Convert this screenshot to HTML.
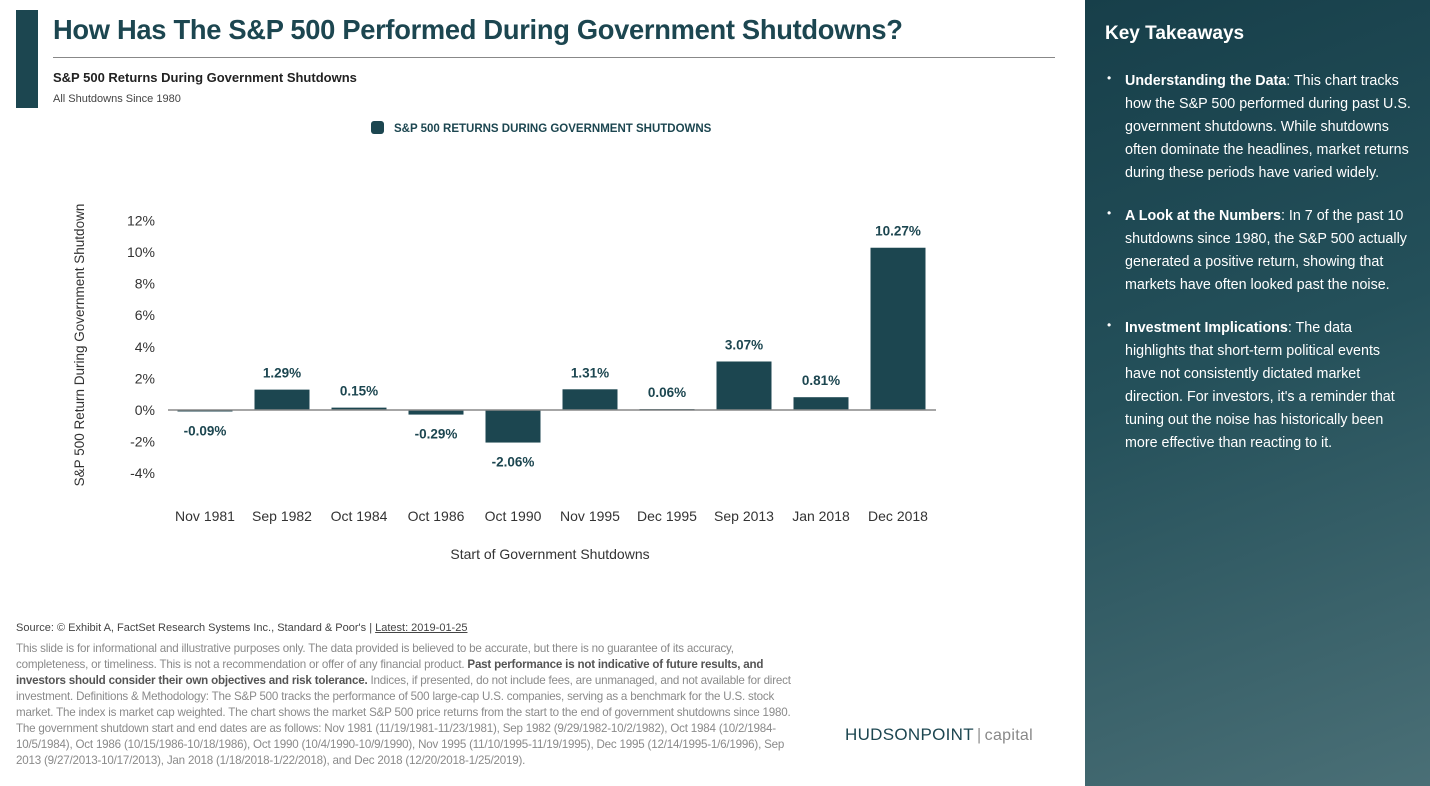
<!DOCTYPE html>
<html><head><meta charset="utf-8"><style>
body{margin:0;width:1430px;height:786px;overflow:hidden;background:#fff;font-family:"Liberation Sans",sans-serif;position:relative}
.abs{position:absolute}
#panel{left:1085px;top:0;width:345px;height:786px;background:linear-gradient(160deg,#173f4a 0%,#24505a 45%,#4a6f76 100%);color:#fff}
#panel h2{position:absolute;left:20px;top:23px;margin:0;font-size:19px;font-weight:bold}
#panel ul{position:absolute;left:20px;top:70px;width:288px;margin:0;padding:0 0 0 20px;font-size:14.3px;line-height:23px}
#panel li{margin-bottom:20px;list-style:none;position:relative}
#panel li:before{content:"•";position:absolute;left:-18px;top:-3px;font-size:12px}
.disc{left:16px;top:641px;width:775px;font-size:11.6px;line-height:16px;color:#8a8a8a;letter-spacing:-0.2px}
.disc b{color:#555}
</style></head><body>
<div class="abs" style="left:16px;top:10px;width:22px;height:98px;background:#1c4650"></div>
<div class="abs" style="left:53px;top:14px;font-size:27.3px;font-weight:bold;color:#1c4650;letter-spacing:-0.3px">How Has The S&amp;P 500 Performed During Government Shutdowns?</div>
<div class="abs" style="left:53px;top:57px;width:1002px;height:1px;background:#888"></div>
<div class="abs" style="left:53px;top:70px;font-size:13px;font-weight:bold;color:#222">S&amp;P 500 Returns During Government Shutdowns</div>
<div class="abs" style="left:53px;top:93px;font-size:11px;color:#444">All Shutdowns Since 1980</div>

<svg class="abs" style="left:0;top:0" width="1085" height="610" font-family="Liberation Sans, sans-serif">
<g>
<rect x="371" y="121" width="13" height="13" rx="3" fill="#1c4650"/>
<text x="394" y="132" font-size="11.5" fill="#1c4650" font-weight="bold">S&amp;P 500 RETURNS DURING GOVERNMENT SHUTDOWNS</text>
</g>
<text transform="translate(84,345) rotate(-90)" text-anchor="middle" font-size="13.5" fill="#333">S&amp;P 500 Return During Government Shutdown</text>
<text x="550" y="559" text-anchor="middle" font-size="14" fill="#333">Start of Government Shutdowns</text>
<g id="ticks"></g><g id="bars"></g>
</svg>
<script>
const categories=["Nov 1981","Sep 1982","Oct 1984","Oct 1986","Oct 1990","Nov 1995","Dec 1995","Sep 2013","Jan 2018","Dec 2018"];
const returns=[-0.09,1.29,0.15,-0.29,-2.06,1.31,0.06,3.07,0.81,10.27];
const yTicks=[12,10,8,6,4,2,0,-2,-4];
const NS="http://www.w3.org/2000/svg";
const y=v=>410-v*15.8;
const x=i=>205+i*77;
function mk(t,a,p){const e=document.createElementNS(NS,t);for(const k in a)e.setAttribute(k,a[k]);p.appendChild(e);return e;}
const tg=document.getElementById('ticks'),bg=document.getElementById('bars');
yTicks.forEach(v=>{const t=mk('text',{x:155,y:y(v)+5,'text-anchor':'end','font-size':14,fill:'#333'},tg);t.textContent=v+'%';

});
returns.forEach((v,i)=>{
const r=mk('rect',{x:x(i)-27.5,width:55,y:Math.min(y(v),y(0)),height:Math.max(Math.abs(y(v)-y(0)),1.5),fill:'#1c4650'},bg);


const l=mk('text',{x:x(i),y:v>=0?y(v)-12:y(v)+24,'text-anchor':'middle','font-size':13.5,'font-weight':'bold',fill:'#1c4650'},bg);
l.textContent=v.toFixed(2)+'%';


const c=mk('text',{x:x(i),y:521,'text-anchor':'middle','font-size':14,fill:'#333'},bg);
c.textContent=categories[i];


});
const ax=mk('line',{x1:168,x2:936,y1:y(0),y2:y(0),stroke:'#888','stroke-width':1.5},bg);


</script>

<div class="abs" style="left:16px;top:622px;font-size:11px;color:#444">Source: © Exhibit A, FactSet Research Systems Inc., Standard &amp; Poor's | <u>Latest: 2019-01-25</u></div>
<div class="abs disc">This slide is for informational and illustrative purposes only. The data provided is believed to be accurate, but there is no guarantee of its accuracy, completeness, or timeliness. This is not a recommendation or offer of any financial product. <b>Past performance is not indicative of future results, and investors should consider their own objectives and risk tolerance.</b> Indices, if presented, do not include fees, are unmanaged, and not available for direct investment. Definitions &amp; Methodology: The S&amp;P 500 tracks the performance of 500 large-cap U.S. companies, serving as a benchmark for the U.S. stock market. The index is market cap weighted. The chart shows the market S&amp;P 500 price returns from the start to the end of government shutdowns since 1980. The government shutdown start and end dates are as follows: Nov 1981 (11/19/1981-11/23/1981), Sep 1982 (9/29/1982-10/2/1982), Oct 1984 (10/2/1984-10/5/1984), Oct 1986 (10/15/1986-10/18/1986), Oct 1990 (10/4/1990-10/9/1990), Nov 1995 (11/10/1995-11/19/1995), Dec 1995 (12/14/1995-1/6/1996), Sep 2013 (9/27/2013-10/17/2013), Jan 2018 (1/18/2018-1/22/2018), and Dec 2018 (12/20/2018-1/25/2019).</div>
<div class="abs" style="left:845px;top:725px;font-size:17px;color:#1c4650;letter-spacing:0.3px">HUDSONPOINT<span style="color:#999;margin:0 3px">|</span><span style="color:#888;font-size:16px">capital</span></div>

<div class="abs" id="panel">
<h2>Key Takeaways</h2>
<ul>
<li><b>Understanding the Data</b>: This chart tracks how the S&amp;P 500 performed during past U.S. government shutdowns. While shutdowns often dominate the headlines, market returns during these periods have varied widely.</li>
<li><b>A Look at the Numbers</b>: In 7 of the past 10 shutdowns since 1980, the S&amp;P 500 actually generated a positive return, showing that markets have often looked past the noise.</li>
<li><b>Investment Implications</b>: The data highlights that short-term political events have not consistently dictated market direction. For investors, it's a reminder that tuning out the noise has historically been more effective than reacting to it.</li>
</ul>
</div>
</body></html>
